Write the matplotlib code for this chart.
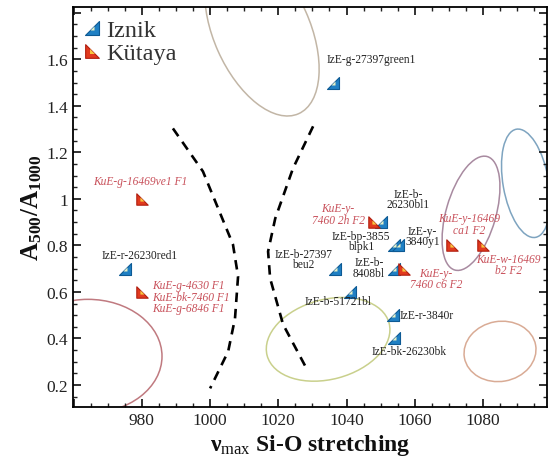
import numpy as np
import matplotlib
matplotlib.use('Agg')
import matplotlib.pyplot as plt
from matplotlib.path import Path
from matplotlib.patches import Ellipse
from matplotlib.transforms import Affine2D
from matplotlib.lines import Line2D
from matplotlib.ticker import MultipleLocator, FuncFormatter

plt.rcParams.update({'font.family': 'serif',
                     'font.serif': ['Liberation Serif', 'DejaVu Serif'],
                     'mathtext.fontset': 'custom',
                     'mathtext.rm': 'Liberation Serif',
                     'mathtext.it': 'Liberation Serif:italic',
                     'mathtext.bf': 'Liberation Serif:bold'})

# Iznik samples
iznik_names = ['IzE-g-27397green1', 'IzE-r-26230red1', 'IzE-b-27397\nbeu2', 'IzE-b-51721bl',
               'IzE-r-3840r', 'IzE-bk-26230bk', 'IzE-b-\n8408bl', 'IzE-bp-3855\nblpk1',
               'IzE-y-\n3840y1', 'IzE-b-\n26230bl1']
iznik_x = [1036, 975, 1036.5, 1041, 1053.5, 1054, 1053.8, 1054, 1055, 1050.2]
iznik_y = [1.5, 0.7, 0.7, 0.6, 0.5, 0.4, 0.7, 0.8, 0.8, 0.9]

# Kütaya samples
kutaya_names = ['KuE-g-16469ve1 F1', 'KuE-g-4630 F1\nKuE-bk-7460 F1\nKuE-g-6846 F1',
                'KuE-y-\n7460 2h F2', 'KuE-y-\n7460 c6 F2', 'KuE-y-16469\nca1 F2',
                'KuE-w-16469\nb2 F2']
kutaya_x = [980, 980, 1048, 1056.8, 1071, 1080]
kutaya_y = [1.0, 0.6, 0.9, 0.7, 0.8, 0.8]

# where each label sits
iznik_lab_x = [1047.4, 979.4, 1027.3, 1037.5, 1055.7, 1058.4, 1046.6, 1044.3, 1062.3, 1058.0]
iznik_lab_y = [1.60, 0.757, 0.742, 0.559, 0.50, 0.344, 0.705, 0.82, 0.84, 1.0]
iznik_lab_ha = ['center', 'center', 'center', 'center', 'left', 'center', 'center', 'center', 'center', 'center']
kutaya_lab_x = [979.6, 983.0, 1037.5, 1066.3, 1076.0, 1087.6]
kutaya_lab_y = [1.075, 0.58, 0.935, 0.656, 0.892, 0.716]
kutaya_lab_ha = ['center', 'left', 'center', 'center', 'center', 'center']

# region outlines: centre, width / height (in x units), tilt
region_cx = [1015.2, 964.2, 1034.6, 1085.0, 1076.5, 1092.6]
region_cy = [1.72, 0.323, 0.396, 0.344, 0.938, 1.067]
region_w = [52.8, 43.4, 37.0, 21.2, 34.6, 32.2]
region_h = [28.2, 33.4, 23.4, 17.6, 14.6, 13.4]
region_ang = [-66, 0, 15, 10, 74, 100]
region_col = ['#c2b6a6', '#c07a80', '#c9d08c', '#d9ab95', '#a88aa0', '#7ea4c0']

# dashed boundaries
left_bx = [989.1, 997.9, 1006.7, 1008.2, 1007.3, 1005.3, 1000.0]
left_by = [1.303, 1.118, 0.804, 0.667, 0.486, 0.344, 0.185]
right_bx = [1030.2, 1024.3, 1019.1, 1017.0, 1017.6, 1021.4, 1028.4]
right_by = [1.312, 1.131, 0.916, 0.774, 0.658, 0.460, 0.267]

iz_mark = Path([(-1, -1), (1, -1), (1, 1), (-1, -1)],
               [Path.MOVETO, Path.LINETO, Path.LINETO, Path.CLOSEPOLY])
ku_mark = Path([(-1, -1), (1, -1), (-1, 1), (-1, -1)],
               [Path.MOVETO, Path.LINETO, Path.LINETO, Path.CLOSEPOLY])

fig = plt.figure(figsize=(5.5, 4.64), dpi=100)
ax = fig.add_axes([0.1327, 0.1207, 0.862, 0.862])
ax.set_xlim(959.8, 1098.8)
ax.set_ylim(0.105, 1.825)
ax.set_autoscale_on(False)

# make ellipses round in screen space
bb = ax.get_window_extent()
s = (bb.height / (1.825 - 0.105)) / (bb.width / (1098.8 - 959.8))
tr = Affine2D().scale(1, 1 / s) + ax.transData
for cx, cy, w, h, a, c in zip(region_cx, region_cy, region_w, region_h, region_ang, region_col):
    ax.add_patch(Ellipse((cx, cy * s), w, h, angle=a, transform=tr, fill=False, ec=c, lw=1.1))

ax.plot(left_bx, left_by, color='black', lw=1.9, ls=(0, (3.6, 2.6)))
ax.plot(right_bx, right_by, color='black', lw=1.9, ls=(0, (3.6, 2.6)))

iz_out = dict(marker=iz_mark, ms=8.2, mfc='#1f80c4', mec='#0d5a94', mew=0.8, ls='none')
iz_in = dict(marker=iz_mark, ms=3, mfc='#e6f0c8', mec='none', ls='none')
ku_out = dict(marker=ku_mark, ms=8.2, mfc='#e23a1e', mec='#b01e10', mew=0.8, ls='none')
ku_in = dict(marker=ku_mark, ms=3, mfc='#f6c640', mec='none', ls='none')

ax.plot(iznik_x, iznik_y, **iz_out)
ax.plot(iznik_x, iznik_y, **iz_in)
ax.plot(kutaya_x, kutaya_y, **ku_out)
ax.plot(kutaya_x, kutaya_y, **ku_in)

for name, lx, ly, ha in zip(iznik_names, iznik_lab_x, iznik_lab_y, iznik_lab_ha):
    ax.text(lx, ly, name, ha=ha, va='center', fontsize=8.3, color='#222222', linespacing=0.8)
for name, lx, ly, ha in zip(kutaya_names, kutaya_lab_x, kutaya_lab_y, kutaya_lab_ha):
    ax.text(lx, ly, name, ha=ha, va='center', fontsize=8.3, color='#c8505a', style='italic',
            linespacing=0.9)

h_iz = (Line2D([], [], **iz_out), Line2D([], [], **iz_in))
h_ku = (Line2D([], [], **ku_out), Line2D([], [], **ku_in))
leg = ax.legend([h_iz, h_ku], ['Iznik', 'Kütaya'],
                loc='upper left', frameon=False, fontsize=17.5, handlelength=0.6, handletextpad=0.25,
                labelspacing=0.05, borderaxespad=0.2, borderpad=0.3, markerscale=1.2)
for t in leg.get_texts():
    t.set_color('#333333')

ax.xaxis.set_major_locator(MultipleLocator(20))
ax.xaxis.set_minor_locator(MultipleLocator(5))
ax.yaxis.set_major_locator(MultipleLocator(0.2))
ax.yaxis.set_minor_locator(MultipleLocator(0.05))
ax.xaxis.set_major_formatter(FuncFormatter(lambda v, p: '' if v < 970 else '%d' % v))
ax.yaxis.set_major_formatter(FuncFormatter(lambda v, p: '' if v > 1.7 else '%g' % round(v, 2)))
ax.tick_params(which='both', direction='in', top=True, right=True, labelsize=12.5, colors='#222222')
ax.tick_params(which='major', length=6, width=1.3)
ax.tick_params(which='minor', length=3, width=1)
for sp in ax.spines.values():
    sp.set_linewidth(1.3)

ax.set_xlabel(r'$\mathbf{\nu}_{\mathrm{max}}$ Si-O stretching', fontsize=17, fontweight='bold',
              labelpad=3, color='#111111')
ax.set_ylabel(r'$\mathbf{A_{500}/A_{1000}}$', fontsize=18, labelpad=2, color='#111111')

fig.savefig('out.png', dpi=100)
